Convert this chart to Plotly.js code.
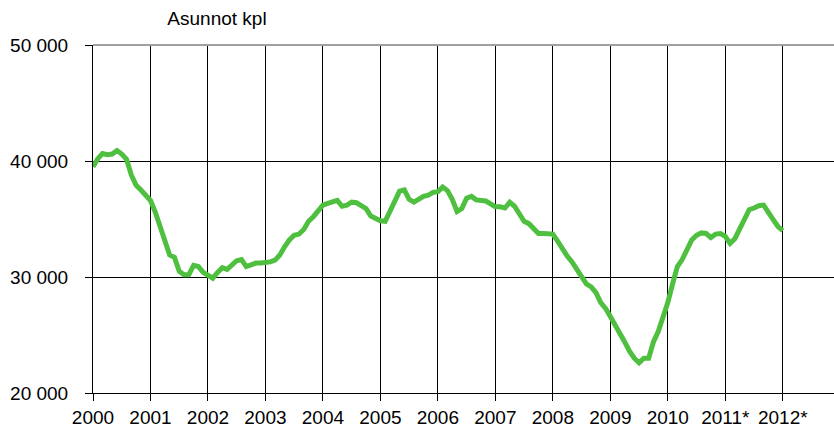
<!DOCTYPE html>
<html>
<head>
<meta charset="utf-8">
<script src="https://cdn.plot.ly/plotly-3.0.1.min.js"></script>
<style>html,body{margin:0;padding:0;background:#fff;}#chart{width:834px;height:432px;}</style>
</head>
<body>
<div id="chart"></div>
<script>
// Monthly values, Jan 2000 .. Jan 2012 (asunnot kpl)
const startYear = 2000;
const values = [
  // 2000
  39500, 40200, 40650, 40550, 40600, 40900, 40600, 40150, 38800, 37900, 37500, 37100,
  // 2001
  36600, 35600, 34400, 33200, 31900, 31700, 30500, 30200, 30200, 31000, 30900, 30400,
  // 2002
  30200, 29900, 30400, 30800, 30650, 31050, 31400, 31500, 30900, 31050, 31200, 31200,
  // 2003
  31200, 31300, 31450, 31900, 32600, 33200, 33600, 33700, 34100, 34800, 35200, 35700,
  // 2004
  36200, 36350, 36500, 36600, 36100, 36200, 36450, 36400, 36150, 35900, 35250, 35000,
  // 2005
  34850, 34800, 35600, 36400, 37400, 37500, 36700, 36450, 36750, 36950, 37050, 37300,
  // 2006
  37350, 37750, 37450, 36700, 35650, 35900, 36800, 36950, 36650, 36650, 36550, 36300,
  // 2007
  36050, 36050, 35950, 36450, 36100, 35450, 34800, 34600, 34100, 33750, 33750, 33750,
  // 2008
  33700, 33100, 32350, 31800, 31300, 30600, 30000, 29400, 29150, 28650, 27800, 27300,
  // 2009
  26600, 25900, 25300, 24400, 23600, 23000, 22600, 23000, 23000, 24400, 25300, 26500,
  // 2010
  27800, 29400, 30900, 31500, 32300, 33200, 33600, 33800, 33750, 33400, 33700, 33750,
  // 2011*
  33500, 32900, 33300, 34150, 34900, 35800, 35950, 36150, 36200, 35650, 34950, 34350,
  // 2012*
  34000
];
const xTickVals = [2000, 2001, 2002, 2003, 2004, 2005, 2006, 2007, 2008, 2009, 2010, 2011, 2012];
const xTickText = ["2000", "2001", "2002", "2003", "2004", "2005", "2006", "2007", "2008", "2009", "2010", "2011*", "2012*"];
const yTickVals = [20000, 30000, 40000, 50000];
const yTickText = ["20 000", "30 000", "40 000", "50 000"];
const yTitle = "Asunnot kpl";

const xs = values.map((v, i) => startYear + i / 12);

const font = {family: "Liberation Sans, Arial, sans-serif", size: 19, color: "#000"};

const trace = {
  type: "scatter", mode: "lines", x: xs, y: values,
  line: {color: "#4fbf3f", width: 5, shape: "linear"},
  hoverinfo: "skip"
};

const layout = {
  width: 834, height: 432,
  margin: {l: 93, r: 0, t: 45, b: 39},
  paper_bgcolor: "#fff", plot_bgcolor: "#fff",
  showlegend: false,
  font: font,
  title: {
    text: yTitle, font: {family: "Liberation Sans, Arial, sans-serif", size: 19, color: "#000"},
    xref: "container", yref: "container", x: 217/834, xanchor: "center", y: 1 - 18/432, yanchor: "middle"
  },
  xaxis: {
    range: [2000, 2000 + 741/57.48],
    tickmode: "array", tickvals: xTickVals, ticktext: xTickText,
    showgrid: true, gridcolor: "#000", gridwidth: 1,
    showline: true, linecolor: "#000", linewidth: 1,
    ticks: "outside", ticklen: 7, tickcolor: "#000", tickwidth: 1,
    zeroline: false, fixedrange: true,
    tickfont: font
  },
  yaxis: {
    range: [20000, 50000],
    tickmode: "array", tickvals: yTickVals, ticktext: yTickText,
    showgrid: true, gridcolor: "#000", gridwidth: 1,
    showline: true, linecolor: "#000", linewidth: 1,
    ticks: "outside", ticklen: 7, tickcolor: "#000", tickwidth: 1,
    ticklabelstandoff: 13,
    zeroline: false, fixedrange: true,
    tickfont: font
  },
  shapes: [{
    type: "line", xref: "paper", yref: "paper", x0: 0, x1: 1, y0: 1, y1: 1,
    line: {color: "#a0a0a0", width: 2}, layer: "above"
  }]
};

Plotly.newPlot("chart", [trace], layout, {displayModeBar: false, staticPlot: true});
</script>
</body>
</html>
